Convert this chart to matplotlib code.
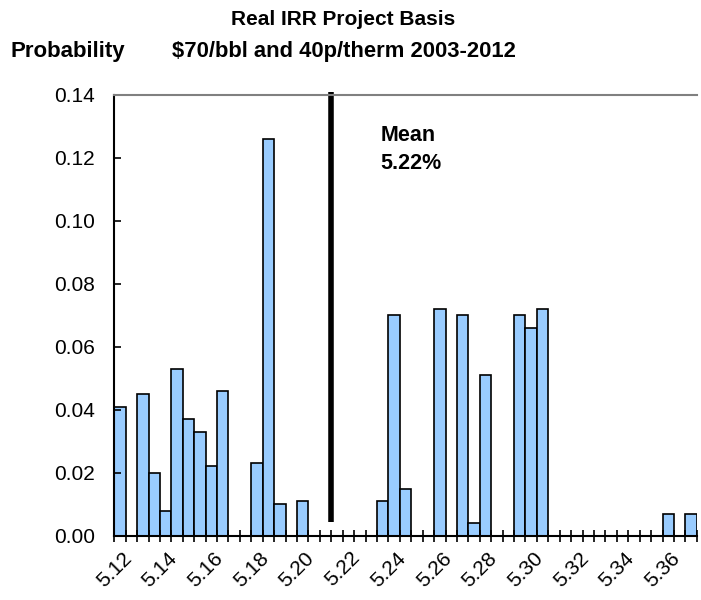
import numpy as np
import matplotlib
matplotlib.use('Agg')
import matplotlib.pyplot as plt
import matplotlib.transforms as mtransforms

plt.rcParams['font.family'] = ['Liberation Sans', 'DejaVu Sans']

# IRR bins (%) and probability per bin
bins = [5.120 + 0.005 * i for i in range(51)]
probs = [0.041, 0.000, 0.045, 0.020, 0.008, 0.053, 0.037, 0.033, 0.022, 0.046,
         0.000, 0.000, 0.023, 0.126, 0.010, 0.000, 0.011, 0.000, 0.000, 0.000,
         0.000, 0.000, 0.000, 0.011, 0.070, 0.015, 0.000, 0.000, 0.072, 0.000,
         0.070, 0.004, 0.051, 0.000, 0.000, 0.070, 0.066, 0.072, 0.000, 0.000,
         0.000, 0.000, 0.000, 0.000, 0.000, 0.000, 0.000, 0.000, 0.007, 0.000,
         0.007]
label_every = 4
mean_label = 'Mean\n5.22%'
mean_pos = 18.5  # category position where the mean marker was drawn

fig = plt.figure(figsize=(7.01, 6.0), dpi=100)
ax = fig.add_axes([0.163, 0.107, 0.831, 0.735])

x = np.arange(len(bins))
ax.bar(x, probs, width=1.0, color='#99CCFF', edgecolor='black', linewidth=1.2)

ax.set_xlim(-0.5, len(bins) - 0.5)
ax.set_ylim(0, 0.14)

# ticks between categories, labels on every 4th category
ax.set_xticks(np.arange(-0.5, len(bins)), [''] * (len(bins) + 1))
ax.tick_params(axis='x', which='major', direction='inout', length=9, width=1.2)
ax.set_xticks(x[::label_every], ['%.2f' % b for b in bins[::label_every]], minor=True)
ax.tick_params(axis='x', which='minor', length=0, labelsize=15, pad=9)
shift = mtransforms.ScaledTranslation(0.02, 0, fig.dpi_scale_trans)
for lbl in ax.get_xticklabels(minor=True):
    lbl.set_rotation(45)
    lbl.set_ha('right')
    lbl.set_rotation_mode('anchor')
    lbl.set_transform(lbl.get_transform() + shift)

ax.set_yticks(np.arange(0, 0.141, 0.02))
ax.yaxis.set_major_formatter(matplotlib.ticker.FormatStrFormatter('%.2f'))
ax.tick_params(axis='y', direction='in', length=5, width=1.2, labelsize=15, pad=14)

ax.spines['right'].set_visible(False)
ax.spines['top'].set_color('#808080')
ax.spines['top'].set_linewidth(1.5)
ax.spines['left'].set_linewidth(1.5)
ax.spines['bottom'].set_linewidth(1.5)

ax.plot([mean_pos, mean_pos], [0.0043, 0.1408], color='black', linewidth=4,
        solid_capstyle='butt', clip_on=False)
ax.text(22.8, 0.1303, mean_label, fontsize=15.5, fontweight='bold', va='top',
        linespacing=1.4)

fig.text(0.49, 0.968, 'Real IRR Project Basis', ha='center', va='center',
         fontsize=15, fontweight='bold')
fig.text(0.49, 0.914, '$70/bbl and 40p/therm 2003-2012', ha='center', va='center',
         fontsize=15.8, fontweight='bold')
fig.text(0.015, 0.914, 'Probability', ha='left', va='center',
         fontsize=16, fontweight='bold')

fig.savefig('out.png', dpi=100)
